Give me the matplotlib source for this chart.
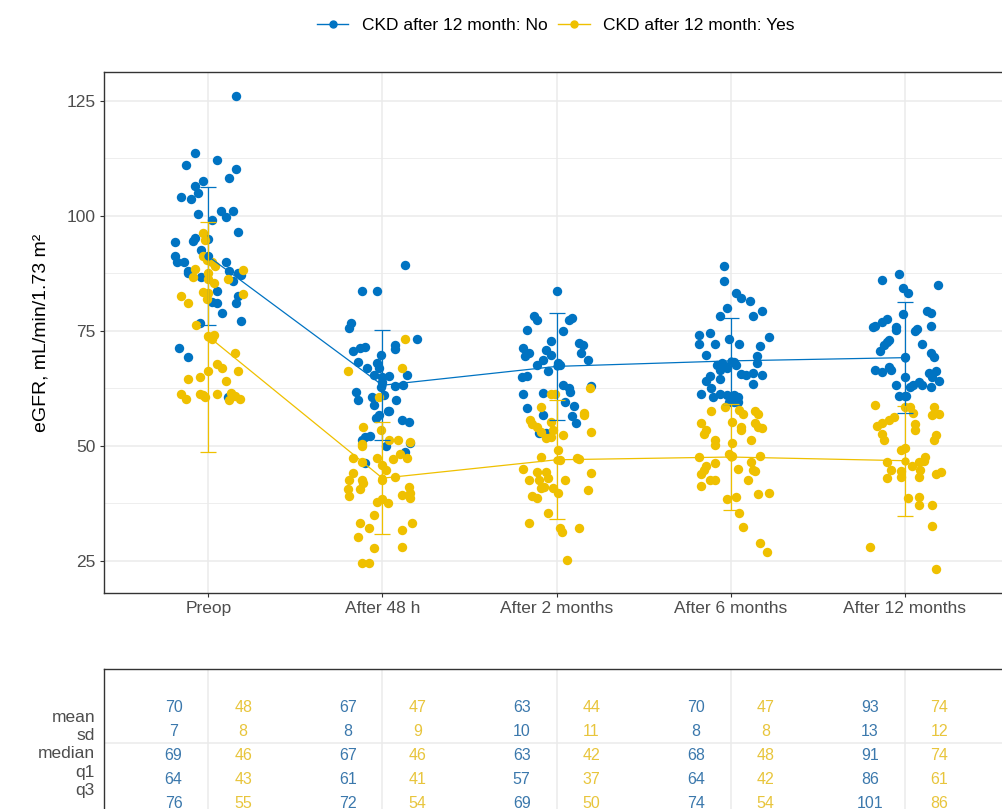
import numpy as np
import matplotlib
matplotlib.use("Agg")
import matplotlib.pyplot as plt
from matplotlib.lines import Line2D

plt.rcParams['font.family'] = ['Liberation Sans', 'DejaVu Sans']

# time points
timepoints = ["Preop", "After 48 h", "After 2 months", "After 6 months", "After 12 months"]

# eGFR per patient, CKD after 12 month: No  (value, and horizontal jitter)
no_preop = [126.1, 113.8, 111.1, 112.2, 110.2, 108.2, 107.5, 106.5, 104.9, 104.1, 103.6, 101.1, 101.1,
            99.8, 100.4, 99.1, 96.5, 94.3, 94.6, 95.2, 94.9, 92.6, 91.3, 91.2, 90.1, 90.1, 88.1, 87.5,
            90.0, 88.1, 87.5, 87.2, 86.7, 85.9, 83.7, 82.6, 81.2, 81.0, 81.0, 79.0, 76.7, 77.1, 71.2,
            69.3, 60.7]
jit_no_preop = [0.16, -0.08, -0.13, 0.05, 0.16, 0.12, -0.03, -0.08, -0.06, -0.16, -0.10, 0.07, 0.14,
                0.10, -0.06, 0.02, 0.17, -0.19, -0.09, -0.08, 0.0, -0.04, 0.0, -0.19, -0.18, -0.14, -0.12, -0.12,
                0.10, 0.12, 0.17, 0.19, -0.04, 0.14, 0.05, 0.17, 0.02, 0.05, 0.16, 0.08, -0.05, 0.19, -0.17,
                -0.12, 0.11]
no_48h = [89.3, 83.6, 83.8, 76.8, 75.6, 73.2, 72.0, 71.0, 70.7, 71.2, 71.6, 69.8, 68.3, 68.0, 66.9,
          66.9, 65.4, 65.1, 65.2, 64.0, 65.4, 62.9, 63.0, 63.3, 61.8, 61.1, 60.0, 60.7, 60.0, 58.9,
          57.5, 57.7, 56.7, 56.0, 55.6, 55.3, 51.9, 52.2, 51.3, 49.9, 48.6, 50.6, 46.4]
jit_no_48h = [0.13, -0.12, -0.03, -0.18, -0.19, 0.20, 0.07, 0.07, -0.17, -0.13, -0.10, -0.01, -0.14, -0.03, -0.02,
              -0.09, -0.05, 0.0, 0.04, 0.0, 0.14, -0.01, 0.07, 0.12, -0.15, 0.01, -0.14, -0.06, 0.08, -0.05,
              0.03, 0.04, -0.02, -0.04, 0.11, 0.15, -0.10, -0.07, -0.12, 0.02, 0.13, 0.16, -0.10]
no_2m = [83.8, 78.3, 77.4, 77.4, 77.8, 75.2, 75.1, 72.9, 72.3, 71.2, 70.2, 69.6, 70.9, 69.8, 68.8,
         67.6, 66.4, 68.0, 67.6, 65.1, 65.2, 63.3, 62.7, 61.8, 61.3, 61.6, 59.6, 58.7, 58.2, 56.7,
         56.5, 55.1, 52.8, 52.8, 72.0, 70.2, 68.6, 63.0]
jit_no_2m = [0.0, -0.13, -0.11, 0.07, 0.09, -0.17, 0.04, -0.03, 0.13, -0.19, -0.16, -0.18, -0.06, -0.03, -0.08,
             -0.11, -0.05, 0.01, 0.02, -0.20, -0.17, 0.04, 0.07, 0.08, -0.19, -0.08, 0.05, 0.10, -0.17, -0.08,
             0.09, 0.11, -0.10, -0.06, 0.15, 0.14, 0.18, 0.20]
no_6m = [89.1, 85.9, 83.2, 82.1, 81.6, 80.1, 78.3, 78.3, 79.3, 74.1, 74.5, 72.2, 72.2, 73.2, 72.2,
         73.8, 71.8, 69.8, 69.6, 67.6, 68.0, 67.4, 68.3, 67.6, 68.0, 66.5, 66.9, 65.2, 64.2, 64.5,
         65.6, 65.4, 65.9, 65.4, 62.5, 63.5, 61.2, 60.7, 61.4, 61.1, 61.1, 60.7, 59.6, 59.6, 59.6]
jit_no_6m = [-0.04, -0.04, 0.03, 0.06, 0.11, -0.02, -0.06, 0.13, 0.18, -0.18, -0.12, -0.18, -0.09, -0.01, 0.05,
             0.22, 0.17, -0.14, 0.15, -0.08, -0.05, -0.03, 0.02, 0.03, 0.15, -0.06, -0.02, -0.12, -0.14, -0.06,
             0.06, 0.09, 0.13, 0.18, -0.11, 0.13, -0.17, -0.10, -0.06, -0.02, 0.02, 0.04, -0.01, 0.02, 0.04]
no_12m = [87.4, 86.1, 85.1, 84.3, 83.2, 79.4, 79.0, 78.7, 77.5, 77.0, 76.1, 75.8, 75.9, 75.2, 75.4,
          75.1, 76.1, 73.0, 72.5, 72.0, 72.2, 70.7, 70.3, 69.4, 69.3, 66.5, 66.0, 67.2, 66.5, 66.2,
          65.8, 64.9, 65.1, 63.3, 62.9, 63.3, 64.0, 63.3, 62.9, 64.2, 60.9, 60.9, 60.9]
jit_no_12m = [-0.03, -0.13, 0.19, -0.01, 0.02, 0.13, 0.15, -0.01, -0.10, -0.13, -0.17, -0.18, -0.05, -0.05, 0.07,
              0.06, 0.15, -0.09, -0.10, -0.12, 0.10, -0.14, 0.15, 0.17, 0.0, -0.17, -0.13, -0.09, -0.08, 0.18,
              0.14, 0.16, 0.0, -0.05, 0.03, 0.05, 0.08, 0.10, 0.15, 0.20, -0.03, 0.0, 0.01]

# eGFR per patient, CKD after 12 month: Yes
yes_preop = [96.2, 94.8, 91.2, 90.4, 90.1, 89.1, 88.4, 86.8, 88.3, 87.5, 86.4, 85.5, 86.2, 82.6, 81.0,
             83.5, 81.9, 83.2, 83.0, 76.2, 73.9, 74.1, 73.2, 70.3, 67.8, 67.0, 66.2, 66.4, 64.5, 65.1,
             64.1, 61.4, 60.2, 61.2, 61.1, 60.7, 61.3, 60.0, 61.5, 60.9, 60.2]
jit_yes_preop = [-0.03, -0.02, -0.03, -0.01, 0.02, 0.04, -0.08, -0.09, 0.20, 0.0, 0.0, 0.03, 0.11, -0.16, -0.12,
                 -0.03, -0.01, 0.0, 0.20, -0.07, 0.0, 0.03, 0.02, 0.15, 0.05, 0.08, 0.0, 0.17, -0.12, -0.05,
                 0.10, -0.16, -0.13, -0.05, -0.03, -0.02, 0.05, 0.12, 0.13, 0.15, 0.18]
yes_48h = [73.2, 66.9, 66.4, 60.6, 54.2, 53.5, 50.4, 49.9, 51.4, 51.4, 50.8, 47.3, 46.6, 47.3, 45.9,
           44.8, 47.1, 48.3, 47.3, 44.2, 42.6, 42.6, 41.9, 42.7, 43.3, 40.6, 39.1, 40.6, 41.0, 39.7,
           38.6, 39.4, 37.9, 38.4, 37.5, 35.1, 33.3, 33.2, 32.1, 31.7, 30.3, 27.8, 28.1, 24.5, 24.5]
jit_yes_48h = [0.13, 0.11, -0.20, -0.02, -0.11, -0.01, -0.12, -0.12, 0.04, 0.09, 0.16, -0.17, -0.12, -0.03, 0.0,
               0.02, 0.06, 0.10, 0.14, -0.17, -0.19, -0.12, -0.11, 0.0, 0.07, -0.20, -0.19, -0.13, 0.15, 0.16,
               0.16, 0.11, -0.03, 0.0, 0.03, -0.05, -0.13, 0.17, -0.08, 0.11, -0.14, -0.05, 0.11, -0.12, -0.08]
yes_2m = [61.3, 61.4, 58.4, 55.6, 54.8, 54.1, 53.1, 55.3, 53.5, 52.4, 51.7, 52.0, 49.1, 47.5, 46.9,
          47.3, 45.1, 44.4, 44.4, 42.6, 42.7, 43.0, 42.7, 40.8, 41.0, 40.8, 39.7, 39.1, 38.8, 35.5,
          33.3, 32.1, 31.4, 25.2, 62.5, 57.2, 56.7, 53.1, 47.1, 44.1, 40.4, 32.1]
jit_yes_2m = [-0.03, -0.01, -0.09, -0.15, -0.14, -0.11, -0.09, -0.03, -0.02, 0.04, -0.06, -0.03, 0.01, -0.09, 0.02,
              0.12, -0.19, -0.11, -0.06, -0.16, -0.10, -0.05, 0.05, -0.09, -0.07, -0.02, 0.01, -0.14, -0.11, -0.05,
              -0.16, 0.02, 0.03, 0.06, 0.19, 0.16, 0.16, 0.20, 0.13, 0.20, 0.18, 0.13]
yes_6m = [58.5, 57.8, 56.9, 57.7, 57.5, 56.9, 55.1, 53.5, 52.6, 55.3, 54.2, 53.5, 55.0, 54.2, 54.0,
          51.4, 50.2, 50.7, 51.2, 47.5, 48.3, 47.9, 47.9, 45.6, 44.8, 44.0, 46.4, 46.6, 44.8, 44.6,
          44.9, 42.5, 42.5, 42.6, 41.3, 38.4, 39.0, 39.5, 39.7, 35.5, 32.3, 29.0, 27.0]
jit_yes_6m = [-0.03, 0.05, 0.07, -0.11, 0.14, 0.16, -0.17, -0.14, -0.15, 0.01, 0.06, 0.06, 0.14, 0.16, 0.18,
              -0.09, -0.09, 0.01, 0.12, -0.18, -0.01, 0.01, 0.17, -0.14, -0.15, -0.17, -0.09, 0.12, 0.13, 0.14,
              0.04, -0.12, -0.09, 0.10, -0.17, -0.02, 0.03, 0.16, 0.22, 0.05, 0.07, 0.17, 0.21]
yes_12m = [58.9, 58.5, 58.5, 58.5, 56.7, 57.0, 57.1, 56.4, 55.6, 55.1, 54.4, 54.8, 53.5, 52.6, 51.2,
           52.4, 51.2, 49.1, 49.5, 46.6, 44.8, 43.0, 44.6, 43.3, 45.6, 46.6, 47.5, 46.8, 44.8, 43.2,
           44.0, 44.3, 38.6, 39.0, 37.2, 37.2, 32.6, 28.1, 23.2]
jit_yes_12m = [-0.17, 0.0, 0.03, 0.17, 0.16, 0.20, 0.05, -0.06, -0.09, -0.13, -0.16, 0.06, 0.06, -0.13, -0.12,
               0.18, 0.17, -0.02, 0.0, -0.10, -0.08, -0.10, -0.02, -0.02, 0.04, 0.08, 0.12, 0.11, 0.09, 0.08,
               0.18, 0.21, 0.02, 0.08, 0.08, 0.16, 0.16, -0.20, 0.18]

# group mean and sd for the line / error bars
mean_no = [91.2, 63.2, 67.3, 68.5, 69.2]
sd_no = [15.0, 12.0, 11.6, 9.4, 12.0]
mean_yes = [73.8, 43.0, 47.0, 47.6, 46.8]
sd_yes = [25.0, 12.2, 12.9, 11.5, 12.0]

# summary table
stat_names = ["mean", "sd", "median", "q1", "q3"]
tab_no = [[70, 67, 63, 70, 93],
          [7, 8, 10, 8, 13],
          [69, 67, 63, 68, 91],
          [64, 61, 57, 64, 86],
          [76, 72, 69, 74, 101]]
tab_yes = [[48, 47, 44, 47, 74],
           [8, 9, 11, 8, 12],
           [46, 46, 42, 48, 74],
           [43, 41, 37, 42, 61],
           [55, 54, 50, 54, 86]]

col_no = "#0073C2"
col_yes = "#EFC000"
tab_col_no = "#3B78AC"
tab_col_yes = "#E8C53C"
grid_c = "#EBEBEB"
text_c = "#4D4D4D"
frame_c = "#333333"

W, H = 1003, 809
fig = plt.figure(figsize=(W / 100, H / 100), dpi=100)
ax = fig.add_axes([104 / W, 1 - 593 / H, 905 / W, 521 / H])

xs = np.arange(1, len(timepoints) + 1)
no_sets = [(no_preop, jit_no_preop), (no_48h, jit_no_48h), (no_2m, jit_no_2m), (no_6m, jit_no_6m), (no_12m, jit_no_12m)]
yes_sets = [(yes_preop, jit_yes_preop), (yes_48h, jit_yes_48h), (yes_2m, jit_yes_2m), (yes_6m, jit_yes_6m), (yes_12m, jit_yes_12m)]

for i, (v, j) in enumerate(no_sets):
    ax.scatter(xs[i] + np.array(j), v, s=46, color=col_no, linewidths=0, zorder=3)
for i, (v, j) in enumerate(yes_sets):
    ax.scatter(xs[i] + np.array(j), v, s=46, color=col_yes, linewidths=0, zorder=3)

for m, s, c in [(mean_no, sd_no, col_no), (mean_yes, sd_yes, col_yes)]:
    ax.plot(xs, m, color=c, lw=0.9, marker='o', ms=6, mew=0, zorder=4)
    ax.errorbar(xs, m, yerr=s, fmt='none', ecolor=c, elinewidth=0.9, capsize=6, capthick=0.9, zorder=4)

ax.set_xlim(0.4, 5.6)
ax.set_ylim(18.04, 131.3)
ax.set_xticks(xs)
ax.set_xticklabels(timepoints)
ax.set_yticks([25, 50, 75, 100, 125])
ax.set_yticks([37.5, 62.5, 87.5, 112.5], minor=True)
ax.grid(which='major', color=grid_c, lw=1.1, zorder=0)
ax.grid(which='minor', axis='y', color=grid_c, lw=0.6, zorder=0)
ax.set_axisbelow(True)
ax.tick_params(which='major', length=3, width=0.8, color=frame_c, labelcolor=text_c, labelsize=12.5, pad=3)
ax.tick_params(which='minor', length=0)
for sp in ax.spines.values():
    sp.set_color(frame_c)
    sp.set_linewidth(1.0)
ax.set_ylabel("eGFR, mL/min/1.73 m²", fontsize=14, color="black", labelpad=12)

handles = [Line2D([], [], color=col_no, marker='o', ms=5, lw=1),
           Line2D([], [], color=col_yes, marker='o', ms=5, lw=1)]
fig.legend(handles, ["CKD after 12 month: No", "CKD after 12 month: Yes"], loc='center',
           bbox_to_anchor=(556 / W, 1 - 25 / H), ncol=2, frameon=False, fontsize=12.5,
           handlelength=1.8, handletextpad=0.8, columnspacing=0.6)

# summary table panel under the plot
ax2 = fig.add_axes([104 / W, 1 - 869 / H, 905 / W, 200 / H])
ax2.set_xlim(0.4, 5.6)
ax2.set_ylim(6.71, -1.625)
ax2.set_xticks([])
ax2.set_yticks([])
for sp in ax2.spines.values():
    sp.set_color(frame_c)
    sp.set_linewidth(1.0)
for x in xs:
    ax2.axvline(x, color=grid_c, lw=1.1, zorder=0)
ax2.axhline(1.45, color=grid_c, lw=1.1, zorder=0)
for r in range(len(stat_names)):
    for i, x in enumerate(xs):
        ax2.text(x - 0.2, r, str(tab_no[r][i]), ha='center', va='center', color=tab_col_no, fontsize=11.5)
        ax2.text(x + 0.2, r, str(tab_yes[r][i]), ha='center', va='center', color=tab_col_yes, fontsize=11.5)

label_y = [717, 735, 753, 773, 791]
for name, yy in zip(stat_names, label_y):
    fig.text(95 / W, 1 - yy / H, name, ha='right', va='center', color=text_c, fontsize=12.5)

fig.savefig("out.png", dpi=100)
